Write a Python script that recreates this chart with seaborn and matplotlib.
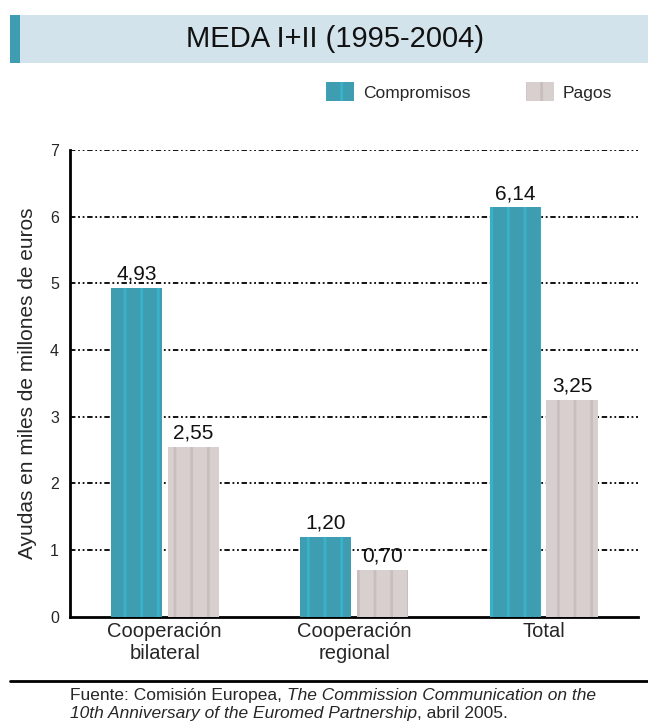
import matplotlib
matplotlib.use("Agg")
import matplotlib.pyplot as plt
from matplotlib.patches import Rectangle
from matplotlib.lines import Line2D
import seaborn as sns
import pandas as pd

# datos (miles de millones de euros)
categorias = ["Cooperación\nbilateral", "Cooperación\nregional", "Total"]
series = ["Compromisos", "Pagos"]
compromisos = [4.93, 1.20, 6.14]
pagos = [2.55, 0.70, 3.25]
yticks = [0, 1, 2, 3, 4, 5, 6, 7]

colores = {"Compromisos": "#3f9db1", "Pagos": "#d8d0ce"}
rayas = {"Compromisos": "#38b2c8", "Pagos": "#c8bebe"}

df = pd.DataFrame({
    "categoria": categorias * 2,
    "serie": ["Compromisos"] * 3 + ["Pagos"] * 3,
    "valor": compromisos + pagos,
})

sns.set_theme(style="white")
plt.rcParams["font.family"] = ["Liberation Sans", "DejaVu Sans"]
plt.rcParams["hatch.linewidth"] = 2.0

fig = plt.figure(figsize=(6.48, 7.24), dpi=100)
ax = fig.add_axes([0.108, 0.148, 0.877, 0.645])

sns.barplot(data=df, x="categoria", y="valor", hue="serie", palette=colores,
            width=0.6, gap=0.1, saturation=1, ax=ax, legend=False, zorder=3)

for cont, s in zip(ax.containers, series):
    for b in cont:
        b.set_hatch("|")
        b.set_edgecolor(rayas[s])
        b.set_linewidth(0)
    ax.bar_label(cont, labels=[f"{v:.2f}".replace(".", ",") for v in cont.datavalues],
                 padding=3, fontsize=15, color="#111111")

ax.set_ylim(0, 7)
ax.set_xlim(-0.5, 2.5)
ax.set_yticks(yticks)
ax.set_yticklabels([str(t) for t in yticks], fontsize=11.5)
ax.set_xlabel("")
ax.set_ylabel("Ayudas en miles de millones de euros", fontsize=15, labelpad=9)
ax.tick_params(axis="y", length=0, pad=8)
ax.tick_params(axis="x", which="major", length=0, labelsize=14.5, pad=4)
ax.set_xticks([0.5, 1.5, 2.5], minor=True)
ax.tick_params(axis="x", which="minor", direction="inout", length=10, width=1.5, color="black")

ax.grid(False)
for t in yticks[1:]:
    ax.axhline(t, color="black", lw=1.3, ls=(0, (3, 1.5, 1, 1.5, 1, 1.5)), zorder=1)

for side in ["top", "right"]:
    ax.spines[side].set_visible(False)
for side in ["left", "bottom"]:
    ax.spines[side].set_color("black")
    ax.spines[side].set_linewidth(2)

# leyenda
handles = [Rectangle((0, 0), 1, 1, facecolor=colores[s], edgecolor=rayas[s], hatch="|", lw=0)
           for s in series]
ax.legend(handles, series, loc="center", bbox_to_anchor=(0.724, 0.873),
          bbox_transform=fig.transFigure, ncol=2, frameon=False, fontsize=12.5,
          handlelength=1.6, handleheight=1.3, handletextpad=0.5, columnspacing=3.2)

# banda del titulo
fig.patches.append(Rectangle((0.016, 0.913), 0.984, 0.066, transform=fig.transFigure,
                             facecolor="#d3e3ec", edgecolor="none", zorder=0))
fig.patches.append(Rectangle((0.016, 0.913), 0.015, 0.066, transform=fig.transFigure,
                             facecolor="#3f9db1", edgecolor="none", zorder=1))
fig.text(0.517, 0.946, "MEDA I+II (1995-2004)", ha="center", va="center",
         fontsize=21, color="#111111")

# pie
fig.lines.append(Line2D([0.016, 1.0], [0.059, 0.059], transform=fig.transFigure,
                        color="black", lw=2))
t1 = fig.text(0.108, 0.040, "Fuente: Comisión Europea, ", fontsize=12.5, va="center")
fig.add_artist(plt.Annotation("The Commission Communication on the", xy=(1, 0),
                              xycoords=t1, va="bottom", fontsize=12.5, style="italic"))
t3 = fig.text(0.108, 0.015, "10th Anniversary of the Euromed Partnership", fontsize=12.5,
              style="italic", va="center")
fig.add_artist(plt.Annotation(", abril 2005.", xy=(1, 0), xycoords=t3, va="bottom",
                              fontsize=12.5))

fig.savefig("out.png", dpi=100)
